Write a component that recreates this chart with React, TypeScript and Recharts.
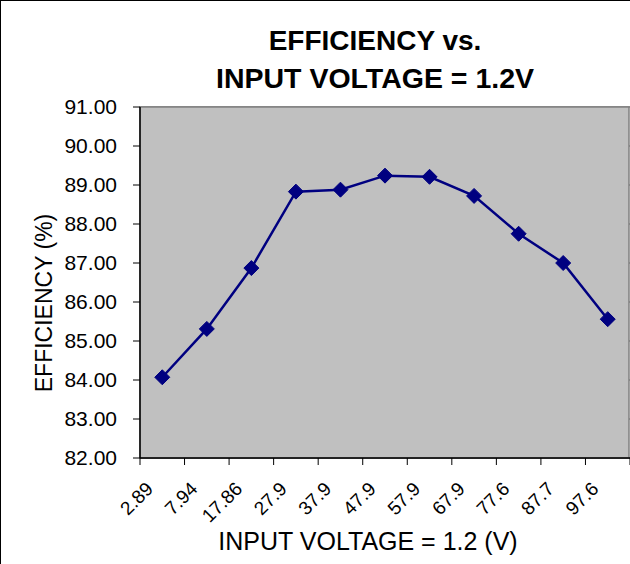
import React from 'react';
import { LineChart, Line, XAxis, YAxis, CartesianGrid } from 'recharts';

const voltages = ['2.89', '7.94', '17.86', '27.9', '37.9', '47.9', '57.9', '67.9', '77.6', '87.7', '97.6'];
const efficiency = [84.07, 85.31, 86.87, 88.83, 88.88, 89.24, 89.21, 88.72, 87.75, 87.0, 85.56];
const yTicks = [82, 83, 84, 85, 86, 87, 88, 89, 90, 91];

const data = voltages.map((v, i) => ({ v, eff: efficiency[i] }));

const FONT = '"Liberation Sans", Arial, sans-serif';
const HALF_BAND = 22.27;

function XTick(props: any) {
  const { x, y, payload, index } = props;
  const tx = x - 8;
  const ty = y + 32;
  const last = index === voltages.length - 1;
  return (
    <g>
      <line x1={x - HALF_BAND} y1={y} x2={x - HALF_BAND} y2={y + 7} stroke="#000" />
      {last && <line x1={x + HALF_BAND} y1={y} x2={x + HALF_BAND} y2={y + 7} stroke="#000" />}
      <text
        x={tx}
        y={ty}
        transform={`rotate(-45, ${tx}, ${ty})`}
        textAnchor="end"
        fontSize={19}
        fontFamily={FONT}
        fill="#000"
      >
        {payload.value}
      </text>
    </g>
  );
}

function Diamond(props: any) {
  const { cx, cy } = props;
  if (cx == null || cy == null) return null;
  const r = 7.5;
  return (
    <path
      d={`M${cx},${cy - r}L${cx + r},${cy}L${cx},${cy + r}L${cx - r},${cy}Z`}
      fill="#000080"
      stroke="#000080"
    />
  );
}

export default function App() {
  return (
    <div style={{ position: 'absolute', left: 0, top: 0, width: 630, height: 564, background: '#fff' }}>
      <LineChart
        width={630}
        height={564}
        data={data}
        margin={{ top: 107, right: 0, bottom: 46, left: 80 }}
        style={{ fontFamily: FONT }}
      >
        <line x1={0.5} y1={0} x2={0.5} y2={564} stroke="#000" />
        <line x1={0} y1={0.5} x2={630} y2={0.5} stroke="#000" />
        <rect x={140} y={107} width={489} height={351} fill="#c0c0c0" stroke="#808080" strokeWidth={1.5} />
        <text x={375} y={50} textAnchor="middle" fontSize={28} fontWeight="bold" fontFamily={FONT} fill="#000">
          EFFICIENCY vs.
        </text>
        <text x={375} y={88} textAnchor="middle" fontSize={28.5} fontWeight="bold" fontFamily={FONT} fill="#000">
          INPUT VOLTAGE = 1.2V
        </text>
        <text
          x={52}
          y={303}
          transform="rotate(-90, 52, 303)"
          textAnchor="middle"
          fontSize={23}
          fontFamily={FONT}
          fill="#000"
        >
          EFFICIENCY (%)
        </text>
        <text x={368} y={550} textAnchor="middle" fontSize={25} fontFamily={FONT} fill="#000">
          INPUT VOLTAGE = 1.2 (V)
        </text>
        <CartesianGrid vertical={false} stroke="#000" strokeOpacity={0.8} fill="none" />
        <XAxis
          dataKey="v"
          height={60}
          interval={0}
          tick={<XTick />}
          tickLine={false}
          tickSize={0}
          tickMargin={0}
          axisLine={{ stroke: '#000', strokeWidth: 1.5 }}
          padding={{ left: HALF_BAND, right: HALF_BAND }}
        />
        <YAxis
          width={60}
          domain={[82, 91]}
          ticks={yTicks}
          interval={0}
          tickFormatter={(t: number) => t.toFixed(2)}
          tick={{ fontSize: 21, fill: '#000', fontFamily: FONT }}
          tickLine={{ stroke: '#000' }}
          tickSize={7}
          tickMargin={16}
          axisLine={{ stroke: '#000', strokeWidth: 1.5 }}
        />
        <Line
          type="linear"
          dataKey="eff"
          stroke="#000080"
          strokeWidth={2.5}
          dot={<Diamond />}
          activeDot={false}
          isAnimationActive={false}
        />
      </LineChart>
    </div>
  );
}
